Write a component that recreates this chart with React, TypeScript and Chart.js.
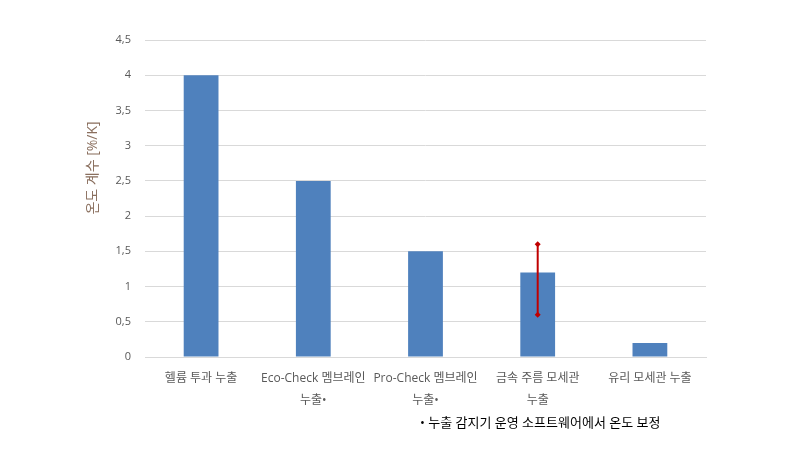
import React, { useEffect, useRef } from "react";
import { Chart, registerables } from "chart.js";

Chart.register(...registerables);

const categories: string[][] = [
  ["헬륨 투과 누출"],
  ["Eco-Check 멤브레인", "누출•"],
  ["Pro-Check 멤브레인", "누출•"],
  ["금속 주름 모세관", "누출"],
  ["유리 모세관 누출"],
];
const values: number[] = [4, 2.5, 1.5, 1.2, 0.2];
// error range per category (null = none)
const errorLow: (number | null)[] = [null, null, null, 0.6, null];
const errorHigh: (number | null)[] = [null, null, null, 1.6, null];
const yTitle = "온도 계수 [%/K]";
const footnote = "• 누출 감지기 운영 소프트웨어에서 온도 보정";

const FONT = "'Open Sans', 'Noto Sans CJK KR', sans-serif";

const errorBarPlugin = {
  id: "errorBars",
  afterDatasetsDraw(chart: any) {
    const ctx = chart.ctx;
    const meta = chart.getDatasetMeta(0);
    const y = chart.scales.y;
    ctx.save();
    ctx.strokeStyle = "#c00000";
    ctx.fillStyle = "#c00000";
    ctx.lineWidth = 2;
    meta.data.forEach((bar: any, i: number) => {
      const lo = errorLow[i];
      const hi = errorHigh[i];
      if (lo == null || hi == null) return;
      const x = bar.x;
      const y1 = y.getPixelForValue(lo);
      const y2 = y.getPixelForValue(hi);
      ctx.beginPath();
      ctx.moveTo(x, y1);
      ctx.lineTo(x, y2);
      ctx.stroke();
      [y1, y2].forEach((yy) => {
        ctx.beginPath();
        ctx.moveTo(x, yy - 3);
        ctx.lineTo(x + 3, yy);
        ctx.lineTo(x, yy + 3);
        ctx.lineTo(x - 3, yy);
        ctx.closePath();
        ctx.fill();
      });
    });
    ctx.restore();
  },
};

const yTitlePlugin = {
  id: "yTitle",
  afterDraw(chart: any) {
    const ctx = chart.ctx;
    ctx.save();
    ctx.translate(93, 168);
    ctx.rotate(-Math.PI / 2);
    ctx.fillStyle = "#8a6f5e";
    ctx.font = `14px ${FONT}`;
    ctx.textAlign = "center";
    ctx.textBaseline = "middle";
    ctx.fillText(yTitle, 0, 0);
    ctx.restore();
  },
};

export default function App() {
  const ref = useRef<HTMLCanvasElement | null>(null);
  useEffect(() => {
    if (!ref.current) return;
    const chart = new Chart(ref.current, {
      type: "bar",
      data: {
        labels: categories,
        datasets: [
          {
            data: values,
            backgroundColor: "#4f81bd",
            barPercentage: 0.62,
            categoryPercentage: 0.5,
          },
        ],
      },
      options: {
        animation: false,
        responsive: false,
        devicePixelRatio: 1,
        layout: { padding: { left: 80, right: 94, top: 40, bottom: 30 } },
        plugins: {
          legend: { display: false },
          tooltip: { enabled: false },
        },
        scales: {
          x: {
            grid: { display: false, drawTicks: false },
            border: { color: "#d9d9d9", width: 1 },
            ticks: {
              color: "#595959",
              font: { family: FONT, size: 12, lineHeight: 1.8 },
              padding: 11,
              maxRotation: 0,
              autoSkip: false,
            },
            afterFit: (s: any) => {
              s.height = 63;
            },
          },
          y: {
            min: 0,
            max: 4.5,
            grid: { color: "#d9d9d9", drawTicks: false },
            border: { display: false },
            ticks: {
              stepSize: 0.5,
              color: "#595959",
              font: { family: FONT, size: 11 },
              padding: 14,
              callback: (v: any) => String(v).replace(".", ","),
            },
            afterFit: (s: any) => {
              s.width = 65;
            },
          },
        },
      },
      plugins: [errorBarPlugin, yTitlePlugin],
    });
    return () => chart.destroy();
  }, []);
  return (
    <div style={{ position: "fixed", left: 0, top: 0, width: 800, height: 450, background: "#fff" }}>
      <canvas ref={ref} width={800} height={450} style={{ width: 800, height: 450 }} />
      <div
        style={{
          position: "absolute",
          left: 420,
          top: 412,
          fontFamily: FONT,
          fontSize: 13,
          color: "#000",
          whiteSpace: "nowrap",
        }}
      >
        {footnote}
      </div>
    </div>
  );
}
